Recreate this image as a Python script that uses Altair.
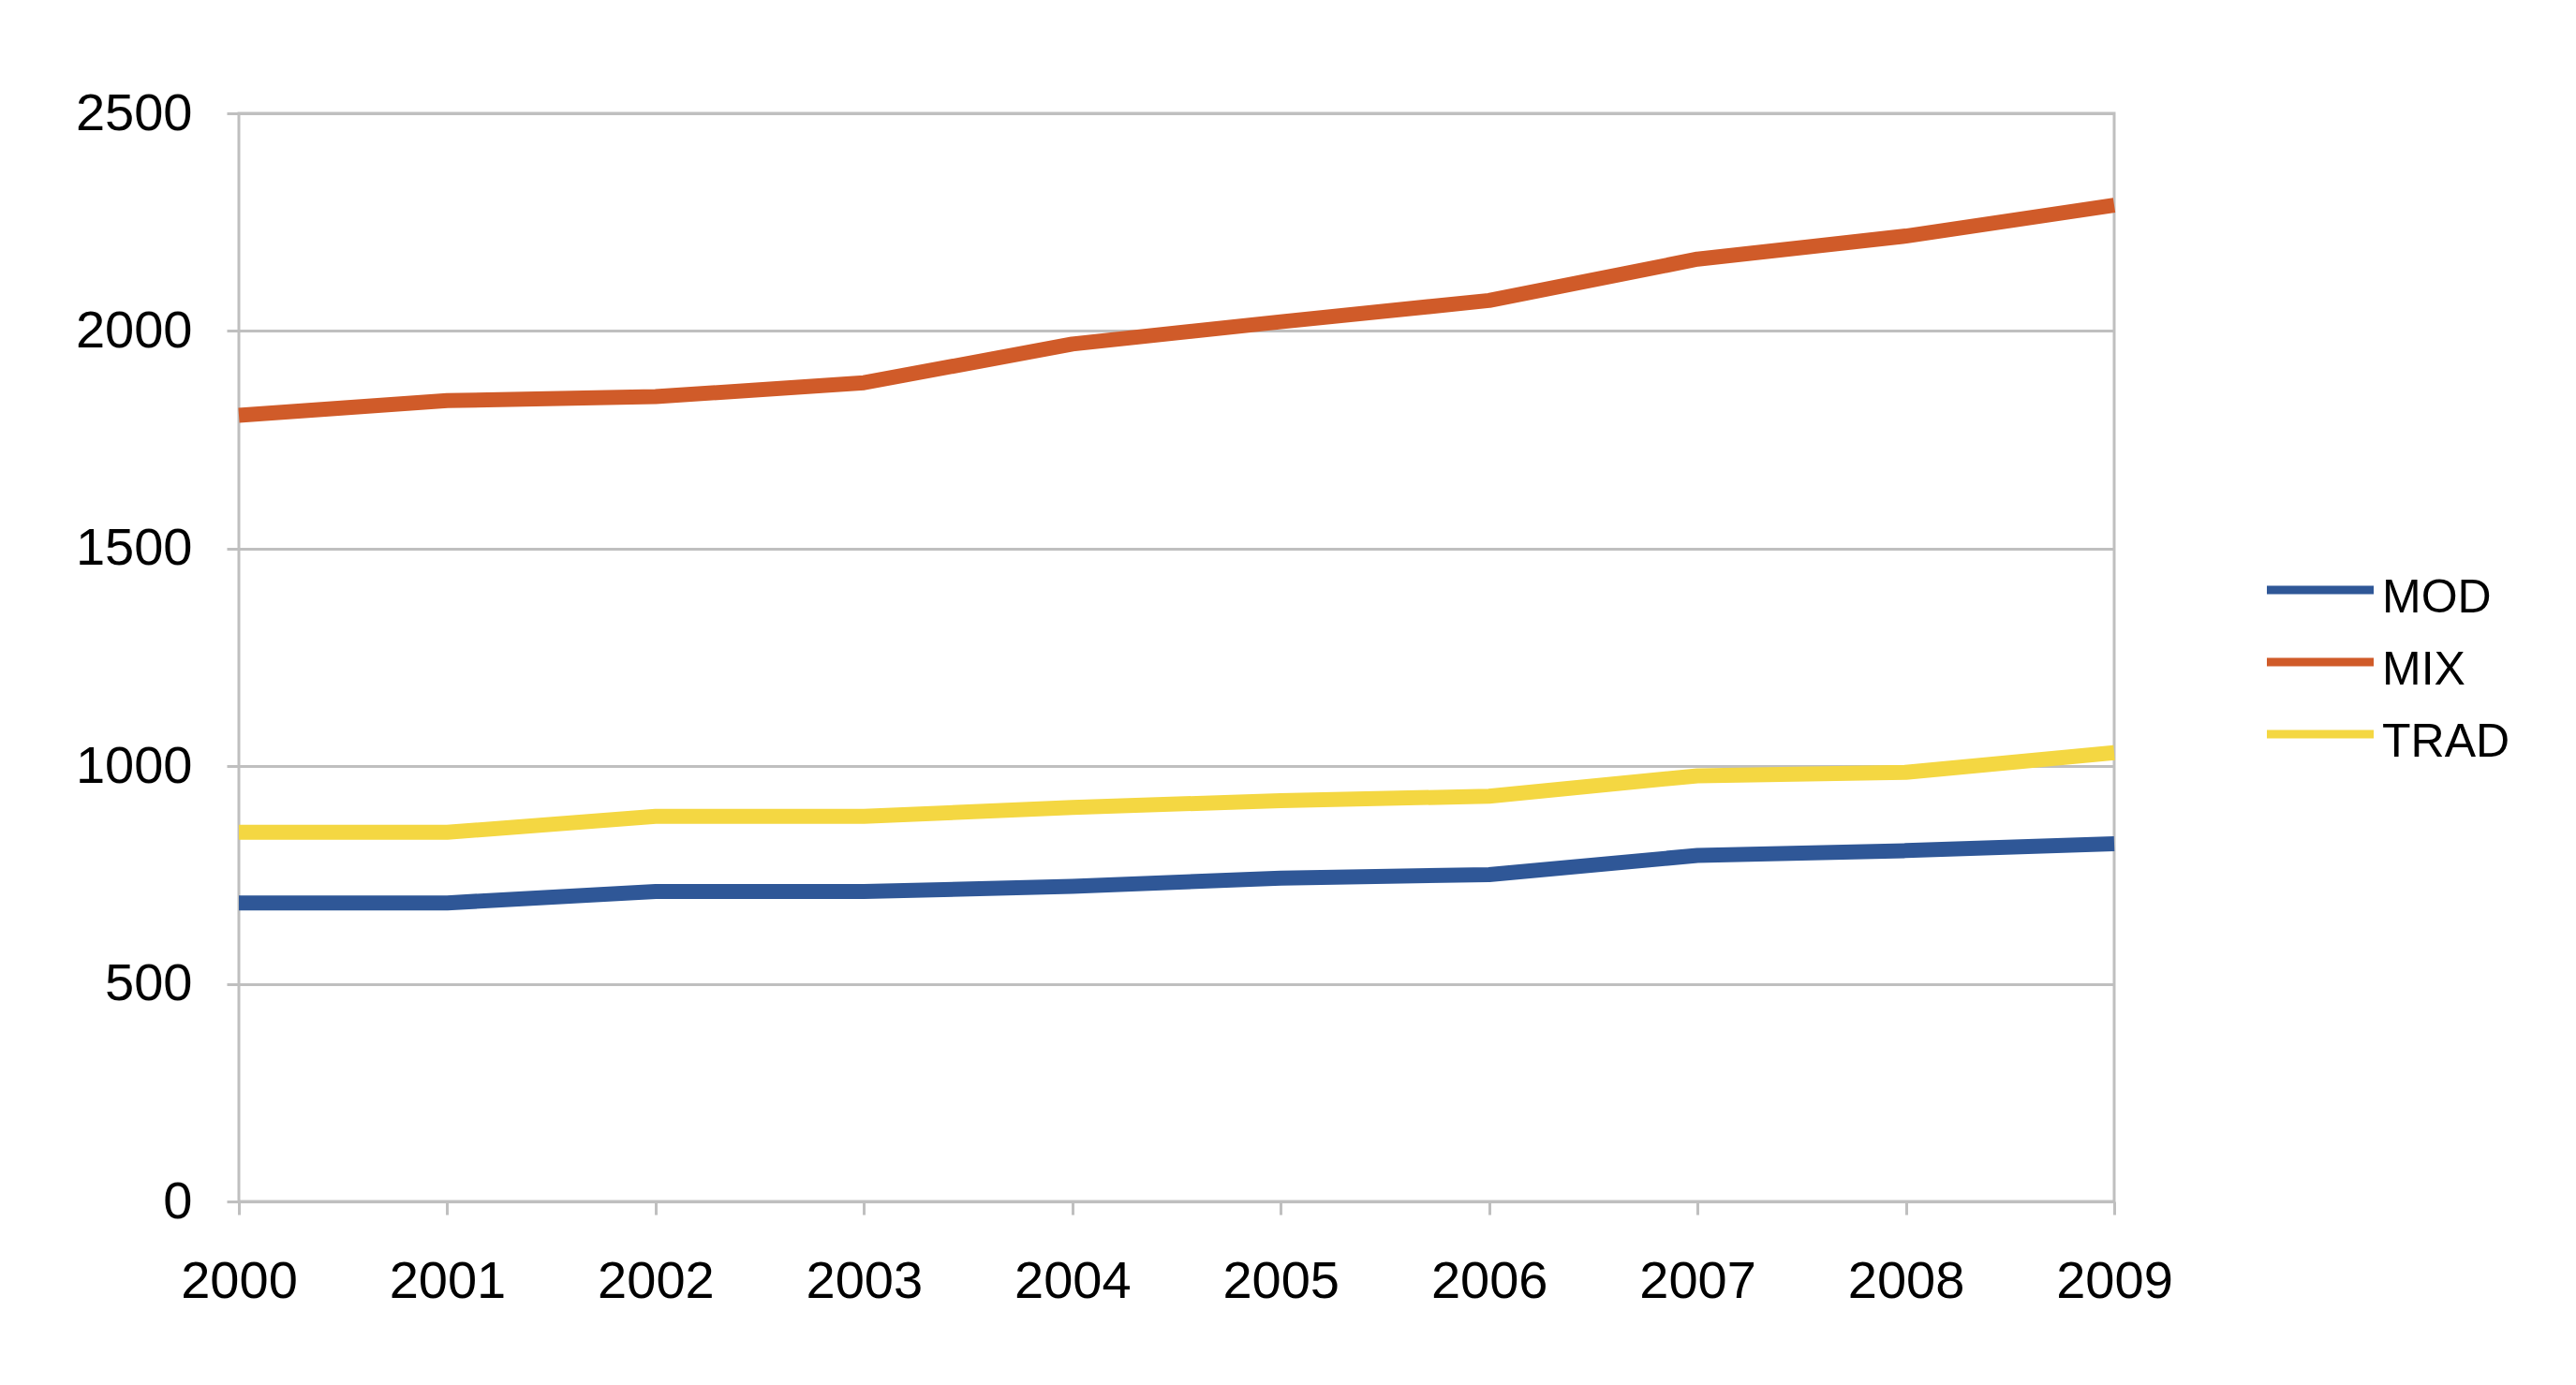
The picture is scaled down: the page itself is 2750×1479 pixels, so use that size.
import altair as alt
import pandas as pd

years = [2000, 2001, 2002, 2003, 2004, 2005, 2006, 2007, 2008, 2009]
mod = [686, 686, 712, 712, 724, 743, 751, 795, 806, 822]
mix = [1806, 1840, 1849, 1881, 1970, 2021, 2070, 2165, 2218, 2289]
trad = [848, 848, 885, 885, 905, 921, 931, 978, 986, 1031]
series_names = ["MOD", "MIX", "TRAD"]
series_colors = ["#2f5797", "#d05b29", "#f4d742"]
y_ticks = [0, 500, 1000, 1500, 2000, 2500]

rows = []
for name, vals in zip(series_names, [mod, mix, trad]):
    for yr, v in zip(years, vals):
        rows.append({"year": yr, "value": v, "series": name})
df = pd.DataFrame(rows)

FONT = "Liberation Sans"
GRID = "#bfbfbf"

chart = alt.Chart(df).mark_line(strokeWidth=16, strokeCap="butt", strokeJoin="round").encode(
    x=alt.X(
        "year:O",
        scale=alt.Scale(padding=0),
        axis=alt.Axis(
            title=None, labelAngle=0, labelFontSize=56, labelFont=FONT, labelColor="#000000",
            tickColor=GRID, tickWidth=3, tickSize=14, labelPadding=44,
            domain=False, grid=False,
        ),
    ),
    y=alt.Y(
        "value:Q",
        scale=alt.Scale(domain=[0, 2500], nice=False),
        axis=alt.Axis(
            title=None, values=y_ticks, format="d", labelFontSize=56, labelFont=FONT, labelColor="#000000",
            tickColor=GRID, tickWidth=3, tickSize=13, labelPadding=37,
            domain=False, grid=True, gridColor=GRID, gridWidth=3,
        ),
    ),
    color=alt.Color(
        "series:N",
        scale=alt.Scale(domain=series_names, range=series_colors),
        sort=series_names,
        legend=alt.Legend(
            title=None, orient="none", legendX=2171, legendY=467,
            labelFontSize=50, labelFont=FONT, labelColor="#000000",
            symbolType="M-1.226,-0.194L1.226,-0.194", symbolSize=8649, symbolStrokeWidth=9,
            labelOffset=15, rowPadding=1,
        ),
    ),
).properties(
    width=2002,
    height=1162,
    autosize=alt.AutoSizeParams(type="none"),
    padding={"left": 247, "top": 113, "right": 480, "bottom": 180},
).configure_view(
    stroke=GRID, strokeWidth=3
).configure_legend(
    symbolStrokeWidth=9
)

chart.save("out.html", embed_options={"renderer": "svg", "actions": False})
